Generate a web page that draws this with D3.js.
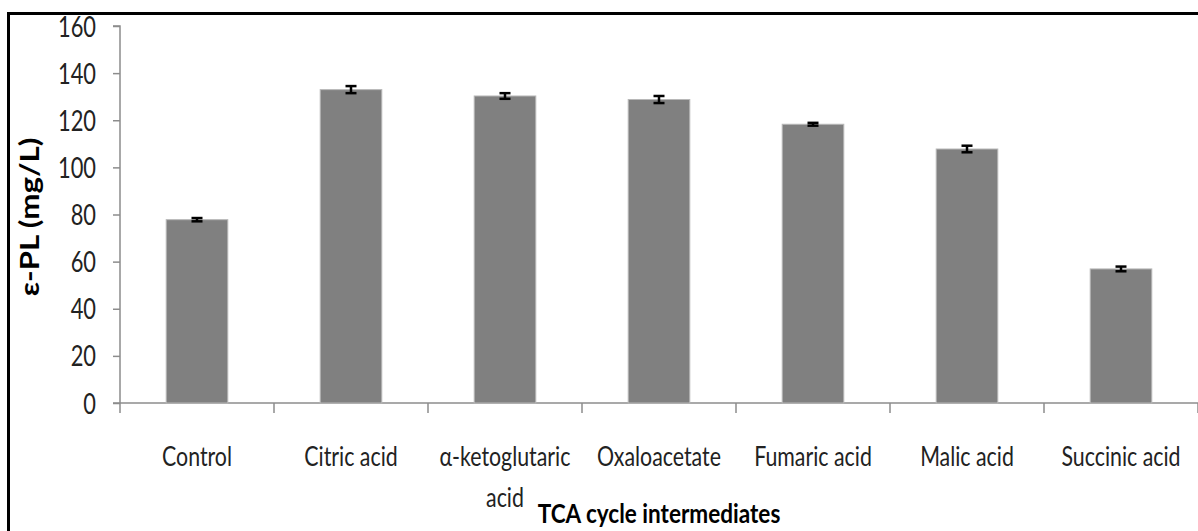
<!DOCTYPE html>
<html>
<head>
<meta charset="utf-8">
<script src="https://cdn.jsdelivr.net/npm/d3@7"></script>
<style>
  body { margin: 0; background: #fff; }
  svg text { font-family: Lato, "Open Sans", sans-serif; }
</style>
</head>
<body>
<svg id="chart" width="1198" height="531"></svg>
<script>
const categories = ["Control", "Citric acid", "α-ketoglutaric acid", "Oxaloacetate", "Fumaric acid", "Malic acid", "Succinic acid"];
const values = [77.8, 133, 130.3, 128.8, 118.3, 107.8, 56.9];
const errors = [0.7, 1.5, 1.2, 1.5, 0.6, 1.4, 1.0];
const yTicks = [0, 20, 40, 60, 80, 100, 120, 140, 160];

const svg = d3.select("#chart");
const plotLeft = 120, plotRight = 1198, plotTop = 26, plotBottom = 403;

// squeeze text horizontally to mimic the narrow Calibri look
function squeeze(sel, k) {
  sel.each(function () {
    const w = this.getComputedTextLength();
    d3.select(this).attr("textLength", w * k).attr("lengthAdjust", "spacingAndGlyphs");
  });
}

// outer frame
svg.append("rect")
  .attr("x", 8.5).attr("y", 13.5)
  .attr("width", 1200).attr("height", 540)
  .attr("fill", "none").attr("stroke", "#000").attr("stroke-width", 3);

const y = d3.scaleLinear().domain([0, 160]).range([plotBottom, plotTop]);
const x = d3.scaleBand().domain(categories).range([plotLeft, plotRight])
  .paddingInner(0.6).paddingOuter(0.3);
const xCell = d3.scaleBand().domain(categories).range([plotLeft, plotRight]);

// y axis
const yAxis = svg.append("g").attr("transform", `translate(${plotLeft},0)`)
  .call(d3.axisLeft(y).tickValues(yTicks).tickSize(7).tickPadding(17));
yAxis.select(".domain").attr("stroke", "#8c8c8c").attr("stroke-width", 1.5)
  .attr("d", `M-7,${plotTop}H0V${plotBottom}`);
yAxis.selectAll(".tick line").attr("stroke", "#8c8c8c").attr("stroke-width", 1.5);
yAxis.selectAll(".tick text").attr("fill", "#222").style("font-size", "28px")
  .style("font-family", "Lato, sans-serif")
  .attr("dy", "0.36em");
squeeze(yAxis.selectAll(".tick text"), 0.78);

// x axis line + boundary ticks
svg.append("line")
  .attr("x1", plotLeft - 7).attr("x2", plotRight).attr("y1", plotBottom).attr("y2", plotBottom)
  .attr("stroke", "#8c8c8c").attr("stroke-width", 1.5);
const bounds = categories.map((c) => xCell(c)).concat([plotRight]);
svg.append("g").selectAll("line").data(bounds).join("line")
  .attr("x1", (d) => d).attr("x2", (d) => d)
  .attr("y1", plotBottom).attr("y2", plotBottom + 10)
  .attr("stroke", "#8c8c8c").attr("stroke-width", 1.5);

// bars
svg.append("g").selectAll("rect").data(categories).join("rect")
  .attr("x", (d) => x(d))
  .attr("y", (d, i) => y(values[i]))
  .attr("width", x.bandwidth())
  .attr("height", (d, i) => plotBottom - y(values[i]))
  .attr("fill", "#808080")
  .attr("stroke", "#b8b8b8").attr("stroke-width", 1);

// error bars
const cx = (d) => x(d) + x.bandwidth() / 2;
const eb = svg.append("g").selectAll("g").data(categories).join("g")
  .attr("stroke", "#000").attr("stroke-width", 2.5);
eb.append("line")
  .attr("x1", cx).attr("x2", cx)
  .attr("y1", (d, i) => y(values[i] + errors[i]))
  .attr("y2", (d, i) => y(values[i] - errors[i]));
eb.append("line")
  .attr("x1", (d) => cx(d) - 5.5).attr("x2", (d) => cx(d) + 5.5)
  .attr("y1", (d, i) => y(values[i] + errors[i]))
  .attr("y2", (d, i) => y(values[i] + errors[i]));
eb.append("line")
  .attr("x1", (d) => cx(d) - 5.5).attr("x2", (d) => cx(d) + 5.5)
  .attr("y1", (d, i) => y(values[i] - errors[i]))
  .attr("y2", (d, i) => y(values[i] - errors[i]));

// category labels
const labels = svg.append("g").selectAll("text").data(categories).join("text")
  .attr("x", cx)
  .attr("y", 466)
  .attr("text-anchor", "middle")
  .attr("fill", "#222")
  .style("font-size", "27px");
labels.each(function (d) {
  const t = d3.select(this);
  if (d === "α-ketoglutaric acid") {
    t.append("tspan").attr("x", cx(d)).text("α-ketoglutaric");
    t.append("tspan").attr("x", cx(d)).attr("dy", 41).text("acid");
  } else {
    t.append("tspan").attr("x", cx(d)).text(d);
  }
});
squeeze(labels.selectAll("tspan"), 0.79);

// axis titles
const xTitle = svg.append("text")
  .attr("x", 659).attr("y", 523)
  .attr("text-anchor", "middle")
  .attr("font-weight", "bold")
  .attr("fill", "#000")
  .style("font-size", "27px")
  .text("TCA cycle intermediates");
squeeze(xTitle, 0.835);

const yTitle = svg.append("text")
  .attr("transform", "translate(39,217) rotate(-90)")
  .attr("text-anchor", "middle")
  .attr("font-weight", "bold")
  .attr("fill", "#000")
  .style("font-size", "26px")
  .text("ε-PL (mg/L)");
squeeze(yTitle, 1.2);
</script>
</body>
</html>
